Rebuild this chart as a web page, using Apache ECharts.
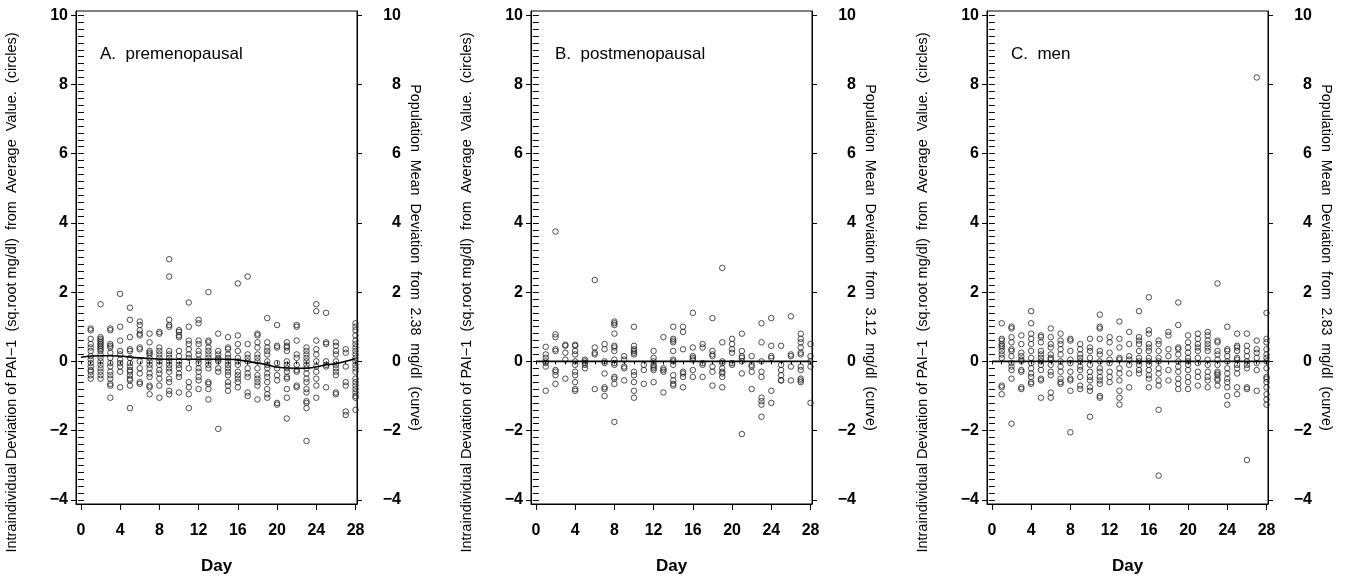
<!DOCTYPE html>
<html>
<head>
<meta charset="utf-8">
<script src="https://cdn.jsdelivr.net/npm/echarts@6/dist/echarts.min.js"></script>
<style>
html,body{margin:0;padding:0;background:#fff;}
#chart{width:1345px;height:581px;}
</style>
</head>
<body>
<div id="chart"></div>
<script>
// ---------- tick labels ----------
const dayTicks = [0, 4, 8, 12, 16, 20, 24, 28];
const dayMinorTicks = [0,1,2,3,4,5,6,7,8,9,10,11,12,13,14,15,16,17,18,19,20,21,22,23,24,25,26,27,28];
const yTicks = [-4, -2, 0, 2, 4, 6, 8, 10];
const yMinorTicks = [];
for (let k = -20; k <= 50; k++) yMinorTicks.push(+(k * 0.2).toFixed(1));

// ---------- panel texts ----------
const panelTitles = ['A.  premenopausal', 'B.  postmenopausal', 'C.  men'];
const leftTitle = 'Intraindividual Deviation of PAI\u22121  (sq.root mg/dl)  from  Average  Value.  (circles)';
const rightTitles = [
  'Population  Mean  Deviation  from  2.38  mg/dl  (curve)',
  'Population  Mean  Deviation  from  3.12  mg/dl  (curve)',
  'Population  Mean  Deviation  from  2.83  mg/dl  (curve)'
];

// ---------- scatter values, one list per day (day 1 .. day 28) ----------
const premenopausal = [
  [0.95,0.9,0.65,0.5,0.4,0.3,0.15,0.05,-0.05,-0.15,-0.25,-0.3,-0.4,-0.5],
  [1.65,0.7,0.65,0.6,0.55,0.5,0.45,0.4,0.35,0.3,0.2,0.1,0.0,-0.1,-0.2,-0.3,-0.4,-0.5],
  [0.95,0.9,0.5,0.45,0.4,0.25,0.1,-0.05,-0.15,-0.3,-0.4,-0.5,-0.65,-0.7,-1.05],
  [1.95,1.0,0.6,0.3,0.2,0.05,-0.05,-0.15,-0.3,-0.75],
  [1.55,1.2,0.7,0.35,0.3,0.1,-0.05,-0.15,-0.25,-0.3,-0.4,-0.5,-0.55,-0.7,-1.35],
  [1.15,1.05,0.9,0.8,0.75,0.4,0.35,0.0,-0.2,-0.35,-0.6,-0.65],
  [0.8,0.55,0.3,0.25,0.2,0.1,0.0,-0.1,-0.2,-0.35,-0.45,-0.7,-0.75,-0.95],
  [0.85,0.8,0.4,0.3,0.2,0.1,0.0,-0.1,-0.25,-0.35,-0.5,-0.7,-1.05],
  [2.95,2.45,1.2,1.05,1.0,0.3,0.2,0.1,0.0,-0.1,-0.2,-0.3,-0.5,-0.6,-0.85,-0.95],
  [0.9,0.85,0.75,0.7,0.3,0.15,0.0,-0.1,-0.2,-0.35,-0.45,-0.9],
  [1.7,1.0,0.6,0.5,0.35,0.2,0.1,-0.2,-0.6,-0.75,-0.95,-1.35],
  [1.2,1.1,0.6,0.5,0.3,0.2,0.05,-0.05,-0.2,-0.3,-0.45,-0.55,-0.8],
  [2.0,0.6,0.55,0.4,0.3,0.2,0.1,0.0,-0.1,-0.2,-0.6,-0.65,-0.8,-1.1],
  [0.8,0.3,0.2,0.1,0.05,0.0,-0.2,-0.3,-1.95],
  [0.7,0.4,0.35,0.2,0.1,0.0,-0.1,-0.2,-0.3,-0.4,-0.6,-0.7,-0.85],
  [2.25,0.75,0.5,0.3,0.1,0.0,-0.1,-0.3,-0.4,-0.5,-0.6,-0.75],
  [2.45,0.5,0.2,0.1,0.0,-0.2,-0.35,-0.45,-0.9,-1.0],
  [0.8,0.75,0.55,0.4,0.2,0.1,0.0,-0.2,-0.4,-0.5,-0.6,-0.7,-1.1],
  [1.25,0.55,0.4,0.3,0.2,0.0,-0.1,-0.2,-0.35,-0.45,-0.6,-0.8,-0.95,-1.05],
  [1.05,0.45,0.4,-0.05,-0.2,-0.4,-0.55,-1.2,-1.25],
  [0.55,0.45,0.4,0.3,0.0,-0.1,-0.2,-0.3,-0.45,-0.5,-0.8,-1.05,-1.65],
  [1.05,1.0,0.6,0.2,0.1,-0.1,-0.25,-0.3,-0.7,-0.75],
  [0.4,0.3,0.2,0.1,0.0,-0.1,-0.2,-0.35,-0.5,-0.6,-0.8,-0.9,-1.15,-1.2,-1.35,-2.3],
  [1.65,1.45,0.6,0.35,0.2,0.0,-0.15,-0.3,-0.5,-0.7,-1.05],
  [1.4,0.55,0.5,0.0,-0.1,-0.15,-0.75],
  [0.55,0.45,0.3,0.2,0.0,-0.1,-0.2,-0.3,-0.4,-0.9,-0.95],
  [0.35,0.25,-0.15,-0.6,-0.7,-1.45,-1.55],
  [1.1,1.0,0.9,0.75,0.6,0.5,0.4,0.3,0.2,0.1,0.0,-0.1,-0.2,-0.3,-0.5,-0.6,-0.7,-0.8,-0.9,-1.0,-1.05,-1.4]
];
const postmenopausal = [
  [0.42,0.2,0.1,0.0,-0.05,-0.15,-0.85],
  [3.75,0.78,0.7,0.35,0.3,-0.25,-0.3,-0.4,-0.65],
  [0.48,0.45,0.25,0.05,-0.5],
  [0.48,0.45,0.3,0.2,0.0,-0.1,-0.3,-0.4,-0.6,-0.8,-0.85],
  [0.05,0.0,-0.05,-0.1,-0.2],
  [2.35,0.4,0.25,0.2,-0.8],
  [0.5,0.35,0.0,-0.05,-0.35,-0.75,-0.8,-1.0],
  [1.15,1.1,1.05,0.8,0.45,0.4,0.3,0.05,-0.05,-0.1,-0.45,-0.5,-0.65,-1.75],
  [0.15,0.05,-0.15,-0.2,-0.55],
  [1.0,0.45,0.35,0.3,0.25,0.2,-0.3,-0.4,-0.6,-0.85,-1.05],
  [-0.1,-0.25,-0.65],
  [0.3,0.1,0.0,-0.1,-0.15,-0.2,-0.25,-0.6],
  [0.7,-0.2,-0.25,-0.3,-0.9],
  [1.0,0.65,0.6,0.55,0.3,0.05,0.0,-0.1,-0.4,-0.55,-0.65,-0.7],
  [1.0,0.85,0.35,-0.3,-0.35,-0.45,-0.75],
  [1.4,0.4,0.15,0.1,0.05,-0.25,-0.45],
  [0.5,0.4,-0.05,-0.1,-0.45],
  [1.25,0.3,0.2,0.15,-0.15,-0.3,-0.7],
  [2.7,0.55,0.0,-0.05,-0.2,-0.3,-0.35,-0.45,-0.75],
  [0.65,0.5,0.35,0.25,-0.05,-0.1],
  [0.8,0.3,0.15,0.1,0.0,-0.35,-2.1],
  [0.15,-0.1,-0.15,-0.3,-0.8],
  [1.1,0.55,0.0,-0.3,-0.45,-1.05,-1.15,-1.25,-1.6],
  [1.25,0.45,0.15,0.1,-0.85,-1.2],
  [0.45,-0.1,-0.25,-0.4,-0.55,-0.55],
  [1.3,0.2,0.15,-0.15,-0.55],
  [0.8,0.65,0.55,0.4,0.25,0.2,-0.15,-0.25,-0.5,-0.55,-0.6],
  [0.5,0.15,0.0,-0.15,-1.2]
];
const men = [
  [1.1,0.65,0.6,0.5,0.45,0.4,0.3,0.2,0.1,-0.7,-0.75,-0.95],
  [1.0,0.95,0.7,0.55,0.35,0.3,0.15,-0.05,-0.15,-0.25,-0.5,-1.8],
  [0.75,0.5,0.25,0.15,0.05,0.0,-0.25,-0.3,-0.75,-0.8],
  [1.45,1.1,0.8,0.65,0.5,0.3,0.1,-0.05,-0.2,-0.35,-0.45,-0.6,-0.65],
  [0.75,0.7,0.55,0.3,0.2,0.1,0.0,-0.1,-0.25,-0.5,-0.55,-1.05],
  [0.95,0.7,0.5,0.4,0.2,0.1,0.05,-0.1,-0.3,-0.4,-0.9,-1.05],
  [0.8,0.6,0.5,0.35,0.2,0.0,-0.15,-0.3,-0.5,-0.6,-0.65],
  [0.65,0.6,0.3,0.05,-0.05,-0.3,-0.5,-0.55,-0.85,-2.05],
  [0.5,0.35,0.2,0.1,0.0,-0.15,-0.25,-0.45,-0.7,-0.8],
  [0.65,0.4,0.3,0.1,-0.1,-0.3,-0.45,-0.55,-0.75,-0.85,-1.6],
  [1.35,1.0,0.95,0.65,0.3,0.2,0.0,-0.2,-0.3,-0.45,-0.55,-0.65,-1.0,-1.05],
  [0.7,0.55,0.25,0.05,-0.05,-0.3,-0.45,-0.6],
  [1.15,0.65,0.4,0.1,0.05,-0.2,-0.35,-0.55,-0.85,-1.05,-1.25],
  [0.85,0.5,0.15,0.05,-0.1,-0.35,-0.75],
  [1.45,0.7,0.6,0.5,0.3,0.1,0.0,-0.1,-0.25,-0.35],
  [1.85,0.9,0.8,0.5,0.4,0.3,0.1,0.0,-0.1,-0.25,-0.4,-0.5,-0.75],
  [0.6,0.5,0.3,0.1,0.0,-0.2,-0.35,-0.55,-0.7,-1.4,-3.3],
  [0.85,0.75,0.35,0.15,-0.25,-0.55],
  [1.7,1.05,0.4,0.35,0.2,0.0,-0.15,-0.3,-0.5,-0.65,-0.8],
  [0.75,0.55,0.4,0.25,0.1,0.0,-0.1,-0.25,-0.45,-0.6,-0.8],
  [0.8,0.65,0.5,0.4,0.3,0.1,-0.05,-0.3,-0.45,-0.7],
  [0.85,0.75,0.6,0.5,0.4,0.3,0.05,-0.1,-0.3,-0.45,-0.55,-0.75],
  [2.25,0.6,0.55,0.3,0.2,0.05,-0.1,-0.3,-0.35,-0.4,-0.5,-0.55,-0.7],
  [1.0,0.35,0.3,0.15,0.0,-0.2,-0.35,-0.5,-0.6,-0.75,-1.0,-1.25],
  [0.8,0.45,0.4,0.3,0.1,0.05,-0.1,-0.2,-0.35,-0.75,-0.95],
  [0.8,0.45,0.3,0.15,0.0,-0.1,-0.2,-0.75,-0.8,-2.85],
  [8.2,0.6,0.35,0.25,0.1,-0.05,-0.25,-0.85],
  [1.4,0.65,0.55,0.35,0.2,0.1,0.0,-0.2,-0.45,-0.5,-0.6,-0.75,-0.95,-1.1,-1.25]
];

// ---------- population mean curves ----------
const curveDaysA = [0, 2, 3, 6, 9, 12, 15, 17, 19, 20, 22, 23, 25, 26, 28];
const curveA     = [0.12, 0.16, 0.16, 0.1, 0.06, 0.06, 0.06, 0.0, -0.1, -0.17, -0.2, -0.2, -0.1, -0.07, 0.08];
const curveDaysB = [0, 28];
const curveB     = [0, 0];
const curveDaysC = [0, 28.15];
const curveC     = [0, 0];

// ---------- build ----------
const scatterSets = [premenopausal, postmenopausal, men];
const curveDays = [curveDaysA, curveDaysB, curveDaysC];
const curveVals = [curveA, curveB, curveC];
const gridLefts = [76, 531, 987];
const GRID_W = 281, GRID_TOP = 11, GRID_H = 493;
const X_MIN = -0.5, X_MAX = 28.15, Y_MIN = -4.12, Y_MAX = 10.12;
const FONT = '"Liberation Sans", Arial, Helvetica, sans-serif';
const black = '#000';
const minusFmt = v => (v < 0 ? '\u2212' + Math.abs(v) : String(v));

const grids = [], xAxes = [], yAxes = [], series = [], titles = [];

scatterSets.forEach((set, i) => {
  grids.push({left: gridLefts[i], top: GRID_TOP, width: GRID_W, height: GRID_H,
    show: true, borderColor: black, borderWidth: 1, backgroundColor: 'transparent'});

  const labelStyle = {color: black, fontFamily: FONT, fontSize: 16, fontWeight: 'bold'};
  // x major
  xAxes.push({gridIndex: i, type: 'value', min: X_MIN, max: X_MAX, position: 'bottom',
    axisLine: {show: true, onZero: false, lineStyle: {color: black, width: 1}},
    axisTick: {show: true, customValues: dayTicks, length: 6, lineStyle: {color: black}},
    axisLabel: Object.assign({customValues: dayTicks, margin: 19}, labelStyle),
    splitLine: {show: false},
    name: 'Day', nameLocation: 'middle', nameGap: 54,
    nameTextStyle: {color: black, fontFamily: FONT, fontSize: 17, fontWeight: 'bold'}});
  // x minor
  xAxes.push({gridIndex: i, type: 'value', min: X_MIN, max: X_MAX, position: 'bottom',
    axisLine: {show: false}, axisTick: {show: true, customValues: dayMinorTicks, length: 3, lineStyle: {color: black}},
    axisLabel: {show: false}, splitLine: {show: false}});

  // y left major
  yAxes.push({gridIndex: i, type: 'value', min: Y_MIN, max: Y_MAX, position: 'left',
    axisLine: {show: true, onZero: false, lineStyle: {color: black}},
    axisTick: {show: true, customValues: yTicks, length: 5, lineStyle: {color: black}},
    axisLabel: Object.assign({customValues: yTicks, margin: 8, formatter: minusFmt}, labelStyle),
    splitLine: {show: false},
    name: leftTitle, nameLocation: 'middle', nameGap: 57, nameRotate: 90,
    nameTextStyle: {color: black, fontFamily: FONT, fontSize: 14.5, padding: [0, 70, 0, 0]}});
  // y left minor
  yAxes.push({gridIndex: i, type: 'value', min: Y_MIN, max: Y_MAX, position: 'left',
    axisLine: {show: false}, axisTick: {show: true, customValues: yMinorTicks, length: 3, lineStyle: {color: black}},
    axisLabel: {show: false}, splitLine: {show: false}});
  // y right major
  yAxes.push({gridIndex: i, type: 'value', min: Y_MIN, max: Y_MAX, position: 'right',
    axisLine: {show: true, onZero: false, lineStyle: {color: black}},
    axisTick: {show: true, customValues: yTicks, length: 5, lineStyle: {color: black}},
    axisLabel: Object.assign({customValues: yTicks, margin: 44, align: 'right', formatter: minusFmt}, labelStyle),
    splitLine: {show: false},
    name: rightTitles[i], nameLocation: 'middle', nameGap: 51, nameRotate: -90,
    nameTextStyle: {color: black, fontFamily: FONT, fontSize: 14.3}});
  // y right minor
  yAxes.push({gridIndex: i, type: 'value', min: Y_MIN, max: Y_MAX, position: 'right',
    axisLine: {show: false}, axisTick: {show: true, customValues: yMinorTicks, length: 3, lineStyle: {color: black}},
    axisLabel: {show: false}, splitLine: {show: false}});

  const pts = [];
  set.forEach((vals, d) => vals.forEach(v => pts.push([d + 1, v])));
  series.push({type: 'scatter', xAxisIndex: i * 2, yAxisIndex: i * 4, data: pts,
    symbol: 'circle', symbolSize: 5.5, silent: true,
    itemStyle: {color: 'rgba(0,0,0,0)', borderColor: '#222', borderWidth: 1}});
  series.push({type: 'line', xAxisIndex: i * 2, yAxisIndex: i * 4,
    data: curveDays[i].map((d, k) => [d, curveVals[i][k]]),
    smooth: 0.4, showSymbol: false, silent: true,
    lineStyle: {color: black, width: 1.6}});

  titles.push({text: panelTitles[i], left: gridLefts[i] + 24, top: 46, padding: 0,
    textStyle: {color: black, fontFamily: FONT, fontSize: 17, fontWeight: 'normal'}});
});

const chart = echarts.init(document.getElementById('chart'), null, {renderer: 'canvas'});
chart.setOption({
  animation: false,
  backgroundColor: '#fff',
  title: titles,
  grid: grids,
  xAxis: xAxes,
  yAxis: yAxes,
  series: series
});
</script>
</body>
</html>
